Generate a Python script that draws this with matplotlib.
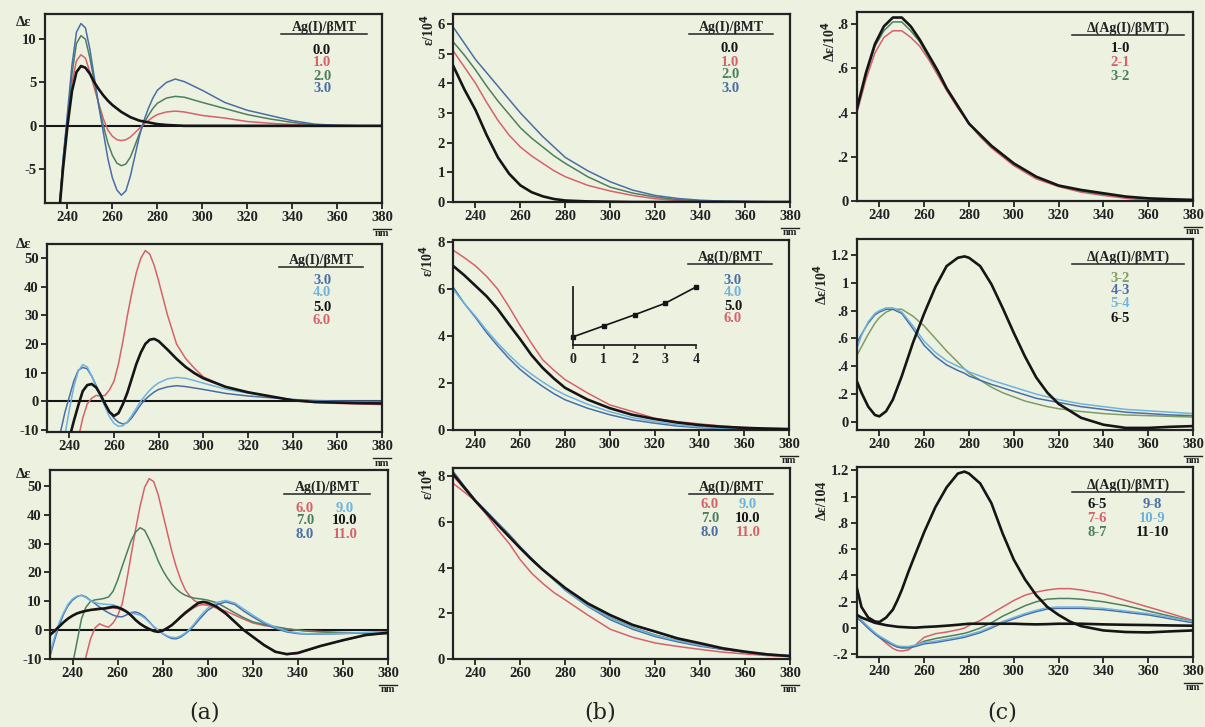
import matplotlib
matplotlib.use('Agg')
import matplotlib.pyplot as plt
from matplotlib.lines import Line2D

plt.rcParams['font.family'] = ['Liberation Serif', 'DejaVu Serif']
plt.rcParams['font.weight'] = 'bold'
plt.rcParams['axes.unicode_minus'] = False

# ---------------- data ----------------
XTICKS = [240, 260, 280, 300, 320, 340, 360, 380]

# Row 1 (a): CD, Ag(I)/bMT 0-3
WL_A1 = [236, 238, 240, 242, 244, 246, 248, 250, 252, 254, 256, 258, 260, 262, 264, 266, 268, 270,
         272, 274, 276, 278, 280, 284, 288, 292, 296, 300, 310, 320, 330, 340, 350, 360, 370, 380]
A1_00 = [-11, -5, 0, 4, 6.2, 6.9, 6.7, 6.0, 5.0, 4.2, 3.5, 2.9, 2.4, 2.0, 1.6, 1.3, 1.0, 0.8,
         0.6, 0.5, 0.4, 0.3, 0.2, 0.1, 0.05, 0, 0, 0, 0, 0, 0, 0, 0, 0, 0, 0]
A1_10 = [-11, -4.5, 0.5, 5, 7.5, 8.2, 7.8, 6.2, 4.3, 2.5, 0.8, -0.5, -1.2, -1.6, -1.7, -1.6, -1.3, -0.8,
         -0.3, 0.2, 0.6, 1.0, 1.3, 1.6, 1.7, 1.6, 1.4, 1.2, 0.9, 0.5, 0.3, 0.15, 0.05, 0, 0, 0]
A1_20 = [-11, -4, 1, 6, 9.5, 10.4, 10, 7.8, 5, 2.3, 0, -2, -3.4, -4.3, -4.6, -4.4, -3.6, -2.3,
         -0.9, 0.3, 1.2, 2.0, 2.6, 3.2, 3.4, 3.3, 3.0, 2.7, 2.0, 1.3, 0.8, 0.4, 0.1, 0.05, 0, 0]
A1_30 = [-11, -4, 1.5, 7, 10.8, 11.8, 11.3, 8.8, 5.5, 2.2, -0.8, -3.8, -6.0, -7.4, -8.0, -7.5, -5.8, -3.5,
         -1.2, 0.6, 2.0, 3.2, 4.1, 5.0, 5.4, 5.1, 4.6, 4.1, 2.7, 1.8, 1.2, 0.6, 0.2, 0.05, 0, 0]

# Row 1 (b): absorption
WL_B1 = [230, 235, 240, 245, 250, 255, 260, 265, 270, 275, 280, 290, 300, 310, 320, 330, 340, 350, 360, 370, 380]
B1_00 = [4.6, 3.8, 3.1, 2.25, 1.5, 0.95, 0.56, 0.33, 0.19, 0.1, 0.05, 0.02, 0.01, 0, 0, 0, 0, 0, 0, 0, 0]
B1_10 = [5.1, 4.55, 4.0, 3.35, 2.75, 2.25, 1.85, 1.55, 1.3, 1.05, 0.85, 0.56, 0.37, 0.22, 0.11, 0.05, 0.03, 0.02, 0.01, 0, 0]
B1_20 = [5.4, 4.95, 4.45, 3.9, 3.4, 2.95, 2.5, 2.15, 1.85, 1.55, 1.3, 0.85, 0.5, 0.3, 0.17, 0.08, 0.04, 0.02, 0.01, 0, 0]
B1_30 = [5.9, 5.35, 4.8, 4.35, 3.9, 3.45, 3.0, 2.6, 2.2, 1.85, 1.5, 1.05, 0.68, 0.4, 0.22, 0.12, 0.06, 0.03, 0.02, 0.01, 0]

# Row 1 (c): difference absorption
WL_C1 = [230, 234, 238, 242, 246, 250, 254, 258, 262, 266, 270, 275, 280, 285, 290, 300, 310, 320, 330, 340, 350, 360, 370, 380]
C1_10 = [0.42, 0.58, 0.71, 0.79, 0.83, 0.83, 0.79, 0.73, 0.66, 0.59, 0.51, 0.43, 0.35, 0.30, 0.25, 0.17, 0.11, 0.07, 0.05, 0.035, 0.02, 0.012, 0.008, 0.005]
C1_21 = [0.40, 0.55, 0.67, 0.74, 0.77, 0.77, 0.74, 0.70, 0.64, 0.57, 0.50, 0.42, 0.35, 0.29, 0.24, 0.16, 0.10, 0.065, 0.04, 0.025, 0.012, 0.003, 0.0, 0.0]
C1_32 = [0.41, 0.57, 0.70, 0.77, 0.81, 0.81, 0.77, 0.72, 0.65, 0.58, 0.51, 0.43, 0.35, 0.30, 0.25, 0.17, 0.11, 0.07, 0.045, 0.03, 0.02, 0.01, 0.005, 0.003]

# Row 2 (a): CD, 3-6
WL_A2 = WL_A1
A2_30 = A1_30
A2_40 = [-25, -12, -3, 5, 10.5, 12.8, 12, 8.8, 5, 1.5, -2, -5.5, -7.8, -8.8, -8.6, -7.2, -5, -2.5,
         0, 2, 3.8, 5.3, 6.4, 7.8, 8.3, 8.0, 7.2, 6.3, 4.2, 2.8, 1.6, 0.5, 0, -0.3, -0.4, -0.5]
A2_50 = [-30, -22, -13, -7, -1.5, 3.5, 5.6, 6.0, 4.8, 2.2, -1, -3.8, -5.2, -4.2, -1, 3, 8, 13,
         17, 20, 21.5, 21.8, 21, 18, 14.8, 12, 9.8, 8, 5.0, 3.1, 1.7, 0.3, -0.3, -0.5, -0.7, -0.8]
A2_60 = [-30, -28, -25, -20, -13, -6, -1, 1.0, 2.0, 1.8, 2.0, 4, 7, 13, 21, 30, 38, 45,
         50, 52.7, 51.5, 47.5, 42, 30, 20, 15, 11.5, 8.5, 5.0, 3.1, 1.7, 0.3, -0.5, -0.8, -1.0, -1.2]

# Row 2 (b)
WL_B2 = [230, 235, 240, 245, 250, 255, 260, 265, 270, 275, 280, 290, 300, 310, 320, 330, 340, 350, 360, 370, 380]
B2_30 = [6.1, 5.4, 4.8, 4.15, 3.58, 3.05, 2.58, 2.2, 1.86, 1.55, 1.29, 0.93, 0.65, 0.43, 0.29, 0.17, 0.1, 0.06, 0.04, 0.02, 0.01]
B2_40 = [6.0, 5.4, 4.85, 4.25, 3.7, 3.2, 2.75, 2.38, 2.05, 1.75, 1.5, 1.1, 0.78, 0.53, 0.36, 0.22, 0.13, 0.07, 0.04, 0.02, 0.01]
B2_50 = [7.0, 6.6, 6.15, 5.7, 5.15, 4.5, 3.87, 3.2, 2.65, 2.2, 1.8, 1.3, 0.93, 0.65, 0.47, 0.32, 0.21, 0.14, 0.09, 0.06, 0.04]
B2_60 = [7.67, 7.35, 7.0, 6.55, 6.0, 5.25, 4.45, 3.7, 3.0, 2.55, 2.15, 1.58, 1.07, 0.79, 0.5, 0.36, 0.26, 0.17, 0.11, 0.07, 0.05]
INSET_X = [0, 1, 2, 3, 4]
INSET_Y = [0.14, 0.33, 0.52, 0.72, 1.0]

# Row 2 (c)
WL_C2 = [230, 232, 235, 238, 240, 243, 246, 250, 255, 260, 265, 270, 275, 278, 280, 285, 290, 295,
         300, 305, 310, 315, 320, 330, 340, 350, 360, 370, 380]
C2_32 = [0.48, 0.54, 0.63, 0.71, 0.75, 0.79, 0.81, 0.81, 0.76, 0.69, 0.60, 0.51, 0.43, 0.38, 0.35, 0.30, 0.25, 0.21,
         0.18, 0.15, 0.13, 0.11, 0.095, 0.075, 0.06, 0.05, 0.045, 0.04, 0.035]
C2_43 = [0.57, 0.63, 0.71, 0.77, 0.79, 0.81, 0.81, 0.78, 0.67, 0.55, 0.47, 0.41, 0.37, 0.35, 0.33, 0.30, 0.27, 0.245,
         0.22, 0.195, 0.17, 0.155, 0.14, 0.11, 0.09, 0.07, 0.06, 0.05, 0.045]
C2_54 = [0.53, 0.62, 0.72, 0.78, 0.80, 0.82, 0.82, 0.79, 0.69, 0.58, 0.50, 0.44, 0.40, 0.38, 0.36, 0.33, 0.30, 0.275,
         0.25, 0.225, 0.20, 0.18, 0.16, 0.13, 0.11, 0.09, 0.08, 0.07, 0.06]
C2_65 = [0.29, 0.21, 0.11, 0.05, 0.04, 0.077, 0.16, 0.33, 0.57, 0.78, 0.97, 1.12, 1.18, 1.19, 1.18, 1.12, 0.99, 0.82,
         0.64, 0.47, 0.32, 0.21, 0.13, 0.03, -0.02, -0.043, -0.043, -0.035, -0.03]

# Row 3 (a): CD, 6-11
WL_A3 = [230, 232, 234, 236, 238, 240, 242, 244, 246, 248, 250, 252, 254, 256, 258, 260, 262, 264, 266, 268,
         270, 272, 274, 276, 278, 280, 282, 284, 286, 288, 290, 292, 294, 296, 298, 300, 304, 308, 312, 316,
         320, 325, 330, 335, 340, 345, 350, 360, 370, 380]
A3_60 = [-40, -38, -36, -34, -30, -26, -21, -15, -9, -3, 0.8, 2.2, 1.5, 1.0, 2.5, 5, 9, 17, 26, 35,
         43, 49.5, 52.5, 51.5, 47, 40.5, 34, 27.5, 22, 17.5, 14, 11.8, 10.3, 9.4, 8.9, 8.6, 7.8, 6.6, 5.2, 3.8,
         2.5, 1.6, 1.0, 0.4, 0, -0.3, -0.5, -0.8, -1.0, -1.2]
A3_70 = [-40, -35, -30, -25, -19, -12, -4, 4, 8, 10, 10.5, 10.7, 11, 11.5, 13.5, 17.3, 22, 26.5, 31, 34,
         35.5, 34.6, 31.5, 28, 24, 20.8, 18.2, 16, 14.3, 13, 12.1, 11.5, 11.1, 10.9, 10.7, 10.4, 9.5, 7.8, 6, 4.3,
         2.9, 1.9, 1.2, 0.5, 0, -0.4, -0.6, -1.0, -1.1, -1.2]
A3_80 = [-9, -3.5, 1.5, 5.5, 8.5, 10.4, 11.6, 12.1, 11.5, 10.3, 9.2, 8, 6.9, 6, 5.2, 4.7, 4.6, 5.3, 6.1, 6.3,
         5.7, 4.6, 3, 1.2, 0, -1.2, -2.2, -2.9, -3.0, -2.4, -1.3, 0, 1.6, 3.5, 5.2, 6.9, 8.8, 9.8, 8.9, 6.6,
         4.6, 2.3, 0.6, -0.6, -1.2, -1.4, -1.4, -1.2, -0.9, -0.6]
A3_90 = [-8, -2.5, 2.5, 6, 9, 10.8, 11.8, 12, 11.3, 10.2, 9.6, 9.2, 9.0, 8.9, 8.8, 8.2, 7.2, 6.4, 5.9, 5.6,
         5.2, 4.2, 2.8, 1.3, 0, -1.2, -2.0, -2.5, -2.6, -2.0, -1.0, 0.4, 2.2, 4.2, 6, 7.6, 9.6, 10.3, 9.4, 7.3,
         5.2, 2.8, 1.0, -0.3, -1.0, -1.3, -1.3, -1.1, -0.8, -0.6]
A3_100 = [-1.7, -0.3, 1.2, 2.7, 4, 5, 5.8, 6.3, 6.7, 7.0, 7.2, 7.4, 7.5, 7.8, 8.1, 7.9, 7.3, 6.4, 5.1, 3.5,
          2.2, 1.2, 0.4, -0.3, -0.6, -0.2, 0.7, 1.7, 3.1, 4.6, 6, 7.2, 8.4, 9.5, 9.8, 9.5, 8.1, 5.8, 2.9, 0,
          -2.3, -5.2, -7.5, -8.3, -7.9, -6.7, -5.5, -3.5, -1.7, -0.9]
A3_110 = [-1.5, 0, 1.4, 2.8, 4.1, 5.1, 5.9, 6.4, 6.8, 7.0, 7.1, 7.2, 7.3, 7.5, 7.7, 7.5, 7.0, 6.2, 5.0, 3.5,
          2.2, 1.2, 0.4, -0.2, -0.4, 0, 0.8, 1.8, 3.0, 4.3, 5.6, 6.8, 7.8, 8.6, 8.9, 8.8, 7.6, 5.5, 2.8, 0.1,
          -2.2, -5.0, -7.3, -8.5, -8.1, -6.9, -5.6, -3.6, -1.8, -1.0]

# Row 3 (b)
WL_B3 = [230, 235, 240, 245, 250, 255, 260, 265, 270, 275, 280, 290, 300, 310, 320, 330, 340, 350, 360, 370, 380]
B3_60 = [7.68, 7.3, 6.9, 6.3, 5.64, 5.05, 4.33, 3.75, 3.3, 2.9, 2.58, 1.92, 1.3, 0.95, 0.7, 0.55, 0.42, 0.3, 0.22, 0.15, 0.1]
B3_70 = [8.2, 7.55, 6.9, 6.38, 5.86, 5.35, 4.84, 4.35, 3.9, 3.48, 3.05, 2.35, 1.8, 1.38, 1.05, 0.8, 0.6, 0.42, 0.3, 0.2, 0.13]
B3_80 = [8.2, 7.55, 6.95, 6.45, 5.95, 5.45, 4.9, 4.4, 3.9, 3.45, 3.0, 2.3, 1.72, 1.3, 0.98, 0.75, 0.56, 0.42, 0.3, 0.2, 0.14]
B3_90 = [8.15, 7.5, 6.9, 6.42, 5.92, 5.4, 4.87, 4.38, 3.9, 3.45, 3.02, 2.33, 1.78, 1.36, 1.03, 0.8, 0.6, 0.45, 0.33, 0.22, 0.15]
B3_100 = [8.1, 7.5, 6.9, 6.38, 5.86, 5.35, 4.84, 4.35, 3.9, 3.5, 3.1, 2.43, 1.92, 1.49, 1.2, 0.9, 0.69, 0.47, 0.32, 0.2, 0.13]
B3_110 = [8.0, 7.45, 6.9, 6.36, 5.84, 5.33, 4.82, 4.33, 3.88, 3.48, 3.08, 2.42, 1.9, 1.48, 1.18, 0.88, 0.66, 0.45, 0.3, 0.19, 0.12]

# Row 3 (c)
WL_C3 = [230, 232, 235, 238, 240, 243, 246, 248, 250, 253, 256, 260, 265, 270, 275, 278, 280, 285, 290, 295,
         300, 305, 310, 315, 320, 325, 330, 340, 350, 360, 370, 380]
C3_65 = [0.30, 0.16, 0.08, 0.05, 0.046, 0.08, 0.14, 0.21, 0.29, 0.43, 0.56, 0.73, 0.92, 1.07, 1.175, 1.19, 1.175, 1.1, 0.95, 0.72,
         0.52, 0.37, 0.25, 0.16, 0.10, 0.05, 0.015, -0.018, -0.03, -0.033, -0.025, -0.018]
C3_76 = [0.084, 0.06, 0.008, -0.04, -0.07, -0.115, -0.155, -0.17, -0.175, -0.165, -0.13, -0.07, -0.043, -0.03, -0.013, 0.0, 0.02, 0.058, 0.11, 0.16,
         0.21, 0.25, 0.274, 0.29, 0.30, 0.30, 0.29, 0.26, 0.21, 0.16, 0.11, 0.058]
C3_87 = [0.08, 0.05, 0.0, -0.045, -0.07, -0.10, -0.125, -0.14, -0.15, -0.148, -0.135, -0.10, -0.08, -0.065, -0.05, -0.04, -0.03, 0.0, 0.04, 0.09,
         0.13, 0.17, 0.20, 0.22, 0.225, 0.225, 0.22, 0.20, 0.17, 0.13, 0.09, 0.05]
C3_98 = [0.08, 0.05, 0.0, -0.045, -0.07, -0.10, -0.13, -0.145, -0.15, -0.15, -0.14, -0.12, -0.11, -0.095, -0.08, -0.07, -0.06, -0.035, 0.0, 0.04,
         0.07, 0.10, 0.125, 0.145, 0.15, 0.15, 0.15, 0.14, 0.12, 0.10, 0.07, 0.04]
C3_109 = [0.09, 0.06, 0.01, -0.035, -0.06, -0.09, -0.12, -0.135, -0.14, -0.14, -0.13, -0.11, -0.10, -0.085, -0.07, -0.06, -0.05, -0.025, 0.01, 0.05,
          0.08, 0.11, 0.135, 0.155, 0.16, 0.16, 0.16, 0.15, 0.13, 0.11, 0.08, 0.05]
C3_1110 = [0.10, 0.08, 0.06, 0.04, 0.033, 0.022, 0.015, 0.01, 0.008, 0.005, 0.003, 0.008, 0.012, 0.018, 0.025, 0.03, 0.033, 0.033, 0.033, 0.033,
           0.033, 0.03, 0.028, 0.03, 0.033, 0.033, 0.033, 0.028, 0.025, 0.023, 0.02, 0.018]

# ---------------- style ----------------
W, H = 1205, 727
BG = '#edf2e0'
K = '#151515'; R = '#d6616b'; G = '#4d7f5e'; B = '#4a6da6'; LB = '#6db3de'; OL = '#7e9c66'
EDGE = '#222222'
TICK_FS = 10.5
LEG_FS = 10.5

fig = plt.figure(figsize=(W / 100, H / 100), dpi=100, facecolor=BG)


def fx(x):
    return x / W


def fy(y):
    return 1 - y / H


def make_ax(l, t, r, b, ylim, yticks, ylabels=None):
    ax = fig.add_axes([fx(l), fy(b), (r - l) / W, (b - t) / H])
    ax.set_facecolor(BG)
    for s in ax.spines.values():
        s.set_linewidth(1.6)
        s.set_color(EDGE)
    ax.tick_params(direction='out', length=4, width=1.3, labelsize=TICK_FS, colors=EDGE, pad=2)
    ax.set_xlim(230, 380)
    ax.set_xticks(XTICKS)
    ax.set_ylim(*ylim)
    ax.set_yticks(yticks)
    if ylabels is not None:
        ax.set_yticklabels(ylabels)
    # "nm" unit under the last tick label
    fig.add_artist(Line2D([fx(r - 9), fx(r + 9)], [fy(b + 26)] * 2, color=EDGE, lw=1.0))
    fig.text(fx(r), fy(b + 31), 'nm', ha='center', va='center', fontsize=7.5, color=EDGE)
    return ax


def legend(title, cx, ty, half, entries):
    fig.text(fx(cx), fy(ty), title, ha='center', va='center', fontsize=10, color=EDGE)
    fig.add_artist(Line2D([fx(cx - half), fx(cx + half)], [fy(ty + 7)] * 2, color=EDGE, lw=1.1))
    for txt, col, x, y in entries:
        fig.text(fx(x), fy(y), txt, color=col, ha='center', va='center', fontsize=LEG_FS)


def curves(ax, wl, series):
    for ys, col in series:
        lw = 1.9 if col == K else 1.1
        ax.plot(wl, ys, color=col, lw=lw, zorder=3 if col == K else 2)


AG = 'Ag(I)/βMT'
DAG = 'Δ(Ag(I)/βMT)'

# ---- Row 1 ----
ax = make_ax(45, 14, 382, 203, (-8.9, 12.9), [-5, 0, 5, 10])
ax.axhline(0, color=K, lw=1.5, zorder=1)
curves(ax, WL_A1, [(A1_10, R), (A1_20, G), (A1_30, B), (A1_00, K)])
fig.text(fx(23), fy(22), 'Δε', ha='center', va='center', fontsize=10.5, color=EDGE)
legend(AG, 324, 27, 43, [('0.0', K, 322, 51), ('1.0', R, 322, 63), ('2.0', G, 322, 76), ('3.0', B, 322, 89)])

ax = make_ax(453, 14, 790, 202, (0, 6.33), [0, 1, 2, 3, 4, 5, 6])
curves(ax, WL_B1, [(B1_10, R), (B1_20, G), (B1_30, B), (B1_00, K)])
fig.text(fx(428), fy(30), 'ε/10$^4$', ha='center', va='center', rotation=90, fontsize=10, color=EDGE)
legend(AG, 731, 27, 42, [('0.0', K, 730, 49), ('1.0', R, 730, 62), ('2.0', G, 730, 75), ('3.0', B, 730, 88)])

ax = make_ax(857, 12, 1193, 201, (0, 0.855), [0, .2, .4, .6, .8], ['0', '.2', '.4', '.6', '.8'])
curves(ax, WL_C1, [(C1_21, R), (C1_32, G), (C1_10, K)])
fig.text(fx(829), fy(42), 'Δε/10$^4$', ha='center', va='center', rotation=90, fontsize=10, color=EDGE)
legend(DAG, 1128, 28, 56, [('1-0', K, 1120, 48), ('2-1', R, 1120, 62), ('3-2', G, 1120, 76)])

# ---- Row 2 ----
ax = make_ax(47, 244, 382, 432, (-10.8, 55), [-10, 0, 10, 20, 30, 40, 50])
ax.axhline(0, color=K, lw=1.5, zorder=1)
curves(ax, WL_A2, [(A2_60, R), (A2_30, B), (A2_40, LB), (A2_50, K)])
fig.text(fx(23), fy(245), 'Δε', ha='center', va='center', fontsize=10.5, color=EDGE)
legend(AG, 321, 260, 42, [('3.0', B, 322, 280), ('4.0', LB, 322, 293), ('5.0', K, 322, 307), ('6.0', R, 322, 320)])

ax = make_ax(453, 240, 789, 430, (0, 8.1), [0, 2, 4, 6, 8])
curves(ax, WL_B2, [(B2_60, R), (B2_30, B), (B2_40, LB), (B2_50, K)])
fig.text(fx(427), fy(261), 'ε/10$^4$', ha='center', va='center', rotation=90, fontsize=10, color=EDGE)
legend(AG, 730, 257, 42, [('3.0', B, 733, 280), ('4.0', LB, 733, 292), ('5.0', K, 733, 306), ('6.0', R, 733, 319)])
ins = fig.add_axes([fx(573), fy(345), (696 - 573) / W, (345 - 287) / H])
ins.patch.set_alpha(0)
ins.spines['top'].set_visible(False)
ins.spines['right'].set_visible(False)
for s in ('left', 'bottom'):
    ins.spines[s].set_linewidth(1.3)
    ins.spines[s].set_color(EDGE)
ins.plot(INSET_X, INSET_Y, color=K, lw=1.2, marker='s', ms=3.5, clip_on=False)
ins.set_xlim(0, 4)
ins.set_ylim(0, 1)
ins.set_xticks(INSET_X)
ins.set_yticks([])
ins.tick_params(direction='out', length=3, width=1.1, labelsize=10, colors=EDGE, pad=3)

ax = make_ax(857, 239, 1193, 430, (-0.058, 1.315), [0, .2, .4, .6, .8, 1, 1.2],
             ['0', '.2', '.4', '.6', '.8', '1', '1.2'])
curves(ax, WL_C2, [(C2_32, OL), (C2_43, B), (C2_54, LB), (C2_65, K)])
fig.text(fx(821), fy(285), 'Δε/10$^4$', ha='center', va='center', rotation=90, fontsize=10, color=EDGE)
legend(DAG, 1128, 257, 56, [('3-2', OL, 1120, 278), ('4-3', B, 1120, 291), ('5-4', LB, 1120, 304), ('6-5', K, 1120, 319)])

# ---- Row 3 ----
ax = make_ax(50, 470, 388, 659, (-10, 55.5), [-10, 0, 10, 20, 30, 40, 50])
ax.axhline(0, color=K, lw=1.5, zorder=1)
curves(ax, WL_A3, [(A3_60, R), (A3_70, G), (A3_80, B), (A3_90, LB), (A3_110, R), (A3_100, K)])
fig.text(fx(23), fy(474), 'Δε', ha='center', va='center', fontsize=10.5, color=EDGE)
legend(AG, 327, 487, 43, [('6.0', R, 305, 508), ('7.0', G, 305, 521), ('8.0', B, 305, 534),
                          ('9.0', LB, 345, 508), ('10.0', K, 345, 521), ('11.0', R, 345, 534)])

ax = make_ax(453, 468, 790, 659, (0, 8.35), [0, 2, 4, 6, 8])
curves(ax, WL_B3, [(B3_60, R), (B3_70, G), (B3_80, B), (B3_90, LB), (B3_110, R), (B3_100, K)])
fig.text(fx(427), fy(484), 'ε/10$^4$', ha='center', va='center', rotation=90, fontsize=10, color=EDGE)
legend(AG, 731, 487, 42, [('6.0', R, 710, 504), ('7.0', G, 710, 519), ('8.0', B, 710, 533),
                          ('9.0', LB, 748, 504), ('10.0', K, 748, 519), ('11.0', R, 748, 533)])

ax = make_ax(857, 467, 1193, 657, (-0.22, 1.225), [-.2, 0, .2, .4, .6, .8, 1, 1.2],
             ['-.2', '0', '.2', '.4', '.6', '.8', '1', '1.2'])
curves(ax, WL_C3, [(C3_76, R), (C3_87, G), (C3_98, B), (C3_109, LB), (C3_1110, K), (C3_65, K)])
fig.text(fx(822), fy(500), 'Δε/104', ha='center', va='center', rotation=90, fontsize=10, color=EDGE)
legend(DAG, 1128, 485, 56, [('6-5', K, 1097, 505), ('7-6', R, 1097, 519), ('8-7', G, 1097, 533),
                            ('9-8', B, 1152, 505), ('10-9', LB, 1152, 519), ('11-10', K, 1152, 533)])

# panel letters
for letter, x in (('(a)', 205), ('(b)', 600), ('(c)', 1002)):
    fig.text(fx(x), fy(712), letter, ha='center', va='center', fontsize=16, fontweight='normal',
             family=['DejaVu Serif'], color=EDGE)

fig.savefig('out.png', dpi=100, facecolor=BG)
